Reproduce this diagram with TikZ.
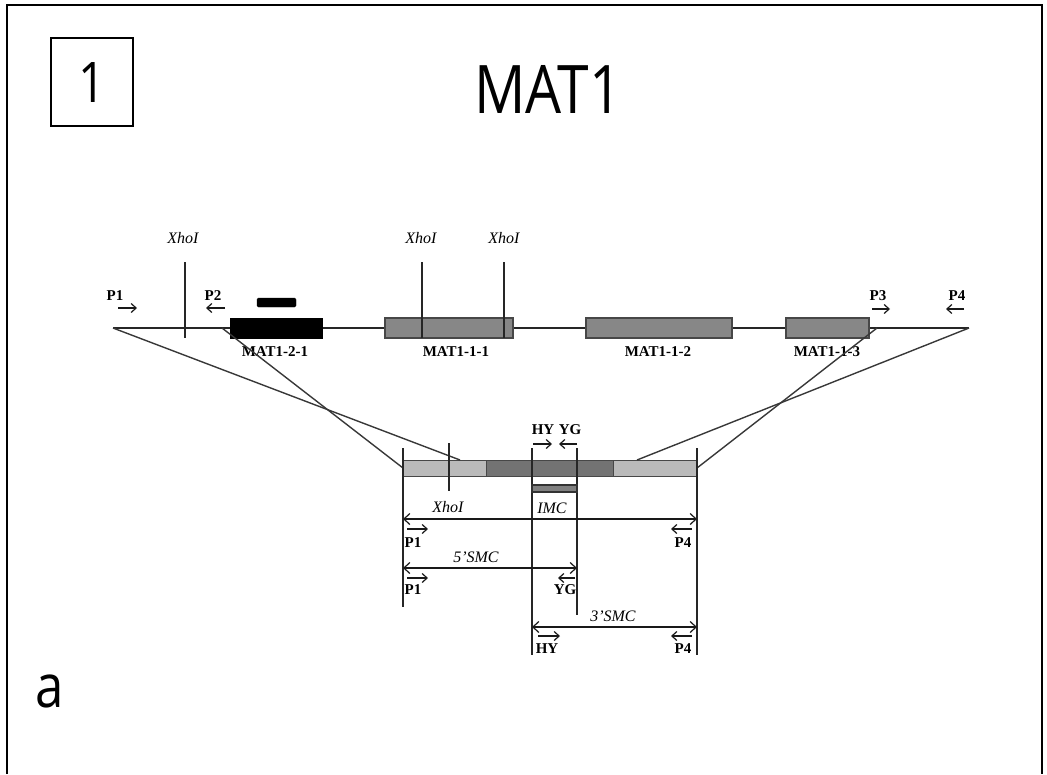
\documentclass[tikz,border=0pt]{standalone}
\usepackage{fontspec}
\usepackage{graphicx}
\setmainfont{Liberation Serif}
\newfontfamily\titlefont{Open Sans}
\usetikzlibrary{arrows.meta}
\begin{document}
\begin{tikzpicture}[x=1pt,y=-1pt,
  lbl/.style={font=\fontsize{15}{15}\selectfont\bfseries, inner sep=0pt},
  ital/.style={font=\fontsize{16}{16}\selectfont\itshape, inner sep=0pt},
  line/.style={draw=black!85, line width=1.4pt},
  cross/.style={draw=black!78, line width=1.4pt},
  genebox/.style={draw=black!72, line width=1.1pt, fill=black!47, minimum height=20pt, inner sep=0pt, outer sep=0pt},
  blackbox/.style={draw=black, fill=black, minimum height=20pt, inner sep=0pt, outer sep=0pt},
  lightseg/.style={draw=black!72, line width=1pt, fill=black!27, minimum height=16pt, inner sep=0pt, outer sep=0pt},
  darkseg/.style={draw=black!72, line width=1pt, fill=black!55, minimum height=16pt, inner sep=0pt, outer sep=0pt},
  sarr/.style={draw=black!90, line width=1.2pt, -{Straight Barb[length=5pt,width=9pt]}},
  darr/.style={draw=black!90, line width=1.2pt, {Straight Barb[length=6pt,width=11pt]}-{Straight Barb[length=6pt,width=11pt]}},
  frame/.style={draw=black, line width=2.5pt}
]
\useasboundingbox (0,0) rectangle (1047,774);
% frame
\coordinate (f1) at (7,774);
\coordinate (f2) at (7,5);
\coordinate (f3) at (1042,5);
\coordinate (f4) at (1042,774);
\draw[frame] (f1) -- (f2) -- (f3) -- (f4);
% title
\node[draw=black, line width=2.8pt, minimum width=82pt, minimum height=88pt, inner sep=0pt] (numbox) at (92,82) {};
\node[anchor=base, inner sep=0pt, font=\titlefont\fontsize{56}{56}\selectfont] (num) at (92,102) {\scalebox{0.85}[1]{1}};
\node[anchor=base, inner sep=0pt, font=\titlefont\fontsize{67}{67}\selectfont] (title) at (548,113) {\scalebox{0.85}[1]{MAT1}};
\node[anchor=base, inner sep=0pt, font=\titlefont\fontsize{60}{60}\selectfont] (a) at (50,707) {\scalebox{0.85}[1]{a}};

% main locus
\coordinate (apL) at (113,328);
\coordinate (apR) at (969,328);
\coordinate (p2pt) at (222,328);
\coordinate (p3pt) at (877,328);
\draw[line] (apL) -- (apR);
\node[blackbox, minimum width=92pt] (m121) at (276,328) {};
\node[blackbox, minimum width=39pt, minimum height=9pt, rounded corners=1.5pt] (probe) at (276.5,302.5) {};
\node[genebox, minimum width=128pt] (m111) at (449,328) {};
\node[genebox, minimum width=146pt] (m112) at (659,328) {};
\node[genebox, minimum width=83pt] (m113) at (827.5,328) {};
\node[lbl] at (275,352) {MAT1-2-1};
\node[lbl] at (456,352) {MAT1-1-1};
\node[lbl] at (658,352) {MAT1-1-2};
\node[lbl] at (827,352) {MAT1-1-3};

% XhoI sites on locus
\coordinate (x1t) at (185,262); \coordinate (x1b) at (185,338);
\coordinate (x2t) at (422,262); \coordinate (x2b) at (422,338);
\coordinate (x3t) at (504,262); \coordinate (x3b) at (504,338);
\draw[line] (x1t) -- (x1b);
\draw[line] (x2t) -- (x2b);
\draw[line] (x3t) -- (x3b);
\node[ital] at (183,238) {XhoI};
\node[ital] at (421,238) {XhoI};
\node[ital] at (504,238) {XhoI};

% primers on locus
\node[lbl] at (115,296) {P1};
\node[lbl] at (213,296) {P2};
\node[lbl] at (878,296) {P3};
\node[lbl] at (957,296) {P4};
\coordinate (a1s) at (118,308); \coordinate (a1e) at (137,308);
\coordinate (a2s) at (225,308); \coordinate (a2e) at (206,308);
\coordinate (a3s) at (872,309); \coordinate (a3e) at (890,309);
\coordinate (a4s) at (964,309); \coordinate (a4e) at (946,309);
\draw[sarr] (a1s) -- (a1e);
\draw[sarr] (a2s) -- (a2e);
\draw[sarr] (a3s) -- (a3e);
\draw[sarr] (a4s) -- (a4e);

% lower construct
\node[lightseg, minimum width=83pt] (L1) at (444.5,468) {};
\node[darkseg, minimum width=127pt] (D) at (549.5,468) {};
\node[lightseg, minimum width=84pt] (L2) at (655,468) {};

% crossing lines
\coordinate (t1) at (460,460);
\coordinate (t2) at (637,460);
\draw[cross] (apL) -- (t1);
\draw[cross] (p2pt) -- (L1.west);
\draw[cross] (p3pt) -- (L2.east);
\draw[cross] (apR) -- (t2);

% verticals on construct
\coordinate (v1t) at (403,448); \coordinate (v1b) at (403,607);
\coordinate (v2t) at (697,448); \coordinate (v2b) at (697,655);
\coordinate (v3t) at (532,448); \coordinate (v3b) at (532,655);
\coordinate (v4t) at (577,448); \coordinate (v4b) at (577,615);
\coordinate (v5t) at (449,443); \coordinate (v5b) at (449,491);
\draw[line] (v1t) -- (v1b);
\draw[line] (v2t) -- (v2b);
\draw[line] (v3t) -- (v3b);
\draw[line] (v4t) -- (v4b);
\draw[line] (v5t) -- (v5b);

% HY / YG
\node[lbl] at (543,430) {HY};
\node[lbl] at (570,430) {YG};
\coordinate (h1s) at (533,444); \coordinate (h1e) at (552,444);
\coordinate (g1s) at (577,444); \coordinate (g1e) at (559,444);
\draw[sarr] (h1s) -- (h1e);
\draw[sarr] (g1s) -- (g1e);

% IMC bar
\node[draw=black!80, line width=1.2pt, fill=black!50, minimum width=45pt, minimum height=7pt, inner sep=0pt] (imcbar) at (554.5,488.5) {};
\node[ital] at (448,507) {XhoI};
\node[ital] at (552,508) {IMC};

% IMC amplicon
\coordinate (d1l) at (403,519); \coordinate (d1r) at (697,519);
\draw[darr] (d1l) -- (d1r);
\coordinate (b1s) at (407,529); \coordinate (b1e) at (428,529);
\coordinate (b2s) at (692,529); \coordinate (b2e) at (671,529);
\draw[sarr] (b1s) -- (b1e);
\draw[sarr] (b2s) -- (b2e);
\node[lbl] at (413,543) {P1};
\node[lbl] at (683,543) {P4};

% 5'SMC
\node[ital] at (476,557) {5'SMC};
\coordinate (d2l) at (403,568); \coordinate (d2r) at (577,568);
\draw[darr] (d2l) -- (d2r);
\coordinate (c1s) at (407,578); \coordinate (c1e) at (428,578);
\coordinate (c2s) at (575,578); \coordinate (c2e) at (558,578);
\draw[sarr] (c1s) -- (c1e);
\draw[sarr] (c2s) -- (c2e);
\node[lbl] at (413,590) {P1};
\node[lbl] at (565,590) {YG};

% 3'SMC
\node[ital] at (613,616) {3'SMC};
\coordinate (d3l) at (532,627); \coordinate (d3r) at (697,627);
\draw[darr] (d3l) -- (d3r);
\coordinate (e1s) at (538,636); \coordinate (e1e) at (560,636);
\coordinate (e2s) at (692,636); \coordinate (e2e) at (671,636);
\draw[sarr] (e1s) -- (e1e);
\draw[sarr] (e2s) -- (e2e);
\node[lbl] at (547,649) {HY};
\node[lbl] at (683,649) {P4};
\end{tikzpicture}
\end{document}
